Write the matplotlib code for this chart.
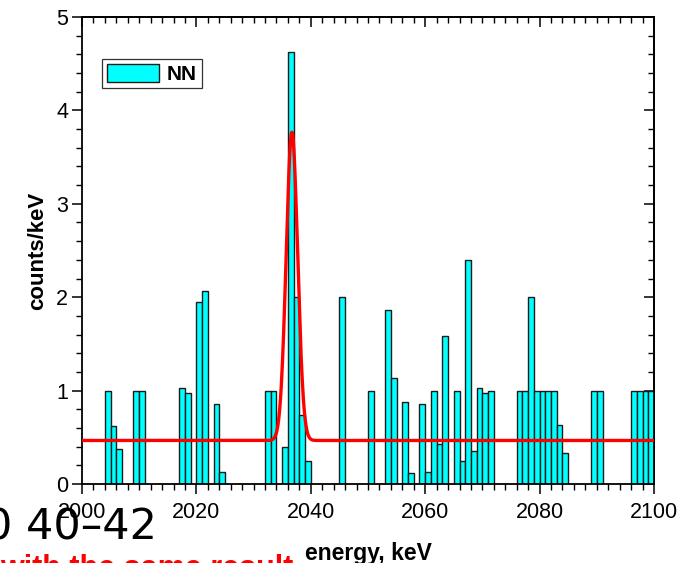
import numpy as np
import matplotlib
matplotlib.use("Agg")
import matplotlib.pyplot as plt
from matplotlib.ticker import MultipleLocator
from matplotlib.patches import Patch

# Histogram of counts per 1 keV bin (left bin edge in keV)
bin_left = [2004, 2005, 2006, 2009, 2010, 2017, 2018, 2020, 2021, 2023, 2024,
            2032, 2033, 2035, 2036, 2037, 2038, 2039, 2045, 2050, 2053, 2054,
            2056, 2057, 2059, 2060, 2061, 2062, 2063, 2065, 2066, 2067, 2068,
            2069, 2070, 2071, 2076, 2077, 2078, 2079, 2080, 2081, 2082, 2083,
            2084, 2089, 2090, 2096, 2097, 2098, 2099]
counts = [1.00, 0.62, 0.37, 1.00, 1.00, 1.03, 0.97, 1.95, 2.07, 0.86, 0.13,
          1.00, 1.00, 0.40, 4.62, 2.00, 0.74, 0.25, 2.00, 1.00, 1.86, 1.14,
          0.88, 0.12, 0.86, 0.13, 1.00, 0.43, 1.58, 1.00, 0.25, 2.40, 0.35,
          1.03, 0.97, 1.00, 1.00, 1.00, 2.00, 1.00, 1.00, 1.00, 1.00, 0.63,
          0.33, 1.00, 1.00, 1.00, 1.00, 1.00, 1.00]

# Fit: flat background plus a Gaussian line
fit_background = 0.466
fit_amplitude = 3.30
fit_center = 2036.7
fit_sigma = 1.0

x_ticks = [2000, 2020, 2040, 2060, 2080, 2100]
y_ticks = [0, 1, 2, 3, 4, 5]

plt.rcParams["font.family"] = ["Liberation Sans", "DejaVu Sans"]

fig = plt.figure(figsize=(6.9, 5.63), dpi=100)
ax = fig.add_axes([82 / 690, 79 / 563, 572 / 690, 467 / 563])

ax.bar(bin_left, counts, width=1.0, align="edge", color="#00FFFF",
       edgecolor="#1a1a1a", linewidth=1.0, zorder=2)

xf = np.linspace(x_ticks[0], x_ticks[-1], 2001)
yf = fit_background + fit_amplitude * np.exp(-0.5 * ((xf - fit_center) / fit_sigma) ** 2)
ax.plot(xf, yf, color="#FF0000", linewidth=2.4, zorder=3, solid_capstyle="butt")

ax.set_xlim(x_ticks[0], x_ticks[-1])
ax.set_ylim(y_ticks[0], y_ticks[-1])
ax.set_xticks(x_ticks)
ax.set_yticks(y_ticks)
ax.xaxis.set_minor_locator(MultipleLocator(2))
ax.yaxis.set_minor_locator(MultipleLocator(0.2))
ax.tick_params(axis="both", which="major", direction="out", length=7,
               width=1.1, labelsize=15.5, pad=5)
ax.tick_params(axis="both", which="minor", direction="out", length=4, width=1.0)
ax.tick_params(axis="x", pad=6)
ax.tick_params(axis="y", pad=3)

for s in ax.spines.values():
    s.set_linewidth(1.3)

# Inward ticks on the top and right frame edges
top = ax.secondary_xaxis("top")
top.set_xticks(x_ticks)
top.xaxis.set_minor_locator(MultipleLocator(2))
top.tick_params(which="major", direction="in", length=7, width=1.1, labeltop=False)
top.tick_params(which="minor", direction="in", length=4, width=1.0)
top.spines["top"].set_linewidth(1.3)

right = ax.secondary_yaxis("right")
right.set_yticks(y_ticks)
right.yaxis.set_minor_locator(MultipleLocator(0.2))
right.tick_params(which="major", direction="in", length=7, width=1.1, labelright=False)
right.tick_params(which="minor", direction="in", length=4, width=1.0)
right.spines["right"].set_linewidth(1.3)

ax.set_xlabel("energy, keV", fontsize=16.5, fontweight="bold")
ax.set_ylabel("counts/keV", fontsize=16, fontweight="bold")
ax.xaxis.set_label_coords(0.5, -0.125)
ax.yaxis.set_label_coords(-0.06, 0.5)

handle = Patch(facecolor="#00FFFF", edgecolor="#1a1a1a", linewidth=1.0)
leg = ax.legend([handle], ["NN"], loc="upper left", bbox_to_anchor=(0.035, 0.91),
                borderaxespad=0, fancybox=False, framealpha=1, edgecolor="#333333",
                prop={"weight": "bold", "size": 15}, handlelength=2.5,
                handleheight=0.95, handletextpad=0.4, borderpad=0.22)
leg.get_frame().set_linewidth(0.9)

# Overlapping slide text at the lower left
fig.text(-0.022, 0.026, "0 40\u201342", fontsize=31, family="DejaVu Sans",
         color="black", ha="left", va="bottom")
fig.text(0.0, -0.024, "with the same result", fontsize=22, fontweight="bold",
         color="#FF0000", ha="left", va="baseline")

fig.savefig("out.png", dpi=100)
